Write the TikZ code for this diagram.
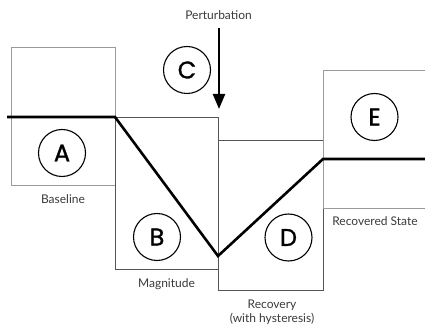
\documentclass[tikz,border=0pt]{standalone}
\usepackage{fontspec}
\setmainfont{Lato}
\newfontfamily\letterfont[FakeBold=1.2]{Poppins}
\usetikzlibrary{arrows.meta}
\definecolor{boxgray}{HTML}{9A9A9A}
\definecolor{boxdark}{HTML}{555555}
\definecolor{labelgray}{HTML}{3A3A3A}
\tikzset{
  stagebox/.style={draw=boxgray, line width=0.7pt},
  stageboxdark/.style={draw=boxdark, line width=0.7pt},
  stagecircle/.style={circle, draw=black, line width=1.1pt, minimum size=47pt, inner sep=0pt, font=\letterfont\fontsize{24}{24}\selectfont},
  caption/.style={font=\fontsize{12}{14}\selectfont, text=labelgray, align=center, inner sep=0pt},
  trajectory/.style={line width=2.6pt, line join=miter},
}
\begin{document}
\begin{tikzpicture}[x=1pt,y=-1pt]
\useasboundingbox (0,0) rectangle (425,328);
% boxes
\draw[stagebox] (11.5,47.5) rectangle (115,185);
\draw[stageboxdark] (115,117) rectangle (218,269);
\draw[stageboxdark] (218,140) rectangle (323,290);
\draw[stagebox] (323,70) -- (425,70);
\draw[stagebox] (425,208) -- (323,208) -- (323,70);
% trajectory
\coordinate (p0) at (7,117);
\coordinate (p1) at (115,117);
\coordinate (p2) at (218,256);
\coordinate (p3) at (323,159);
\coordinate (p4) at (425,159);
\draw[trajectory] (p0) -- (p1) -- (p2) -- (p3) -- (p4);
% circles
\node[stagecircle] (A) at (62,153) {A};
\node[stagecircle] (B) at (157,237) {B};
\node[stagecircle] (C) at (187,70) {C};
\node[stagecircle] (D) at (288.5,237.5) {D};
\node[stagecircle] (E) at (374.5,117) {E};
% perturbation
\node[caption] (pert) at (218.5,15) {Perturbation};
\coordinate (arrowtop) at (219,28);
\coordinate (arrowtip) at (219,109);
\draw[line width=2.4pt, -{Triangle[length=15pt,width=12pt]}] (arrowtop) -- (arrowtip);
% captions
\node[caption] (base) at (63,199) {Baseline};
\node[caption] (mag) at (166.5,284) {Magnitude};
\node[caption] (rec) at (272,312.5) {Recovery\\(with hysteresis)};
\node[caption] (recs) at (375,221.5) {Recovered State};
\end{tikzpicture}
\end{document}
